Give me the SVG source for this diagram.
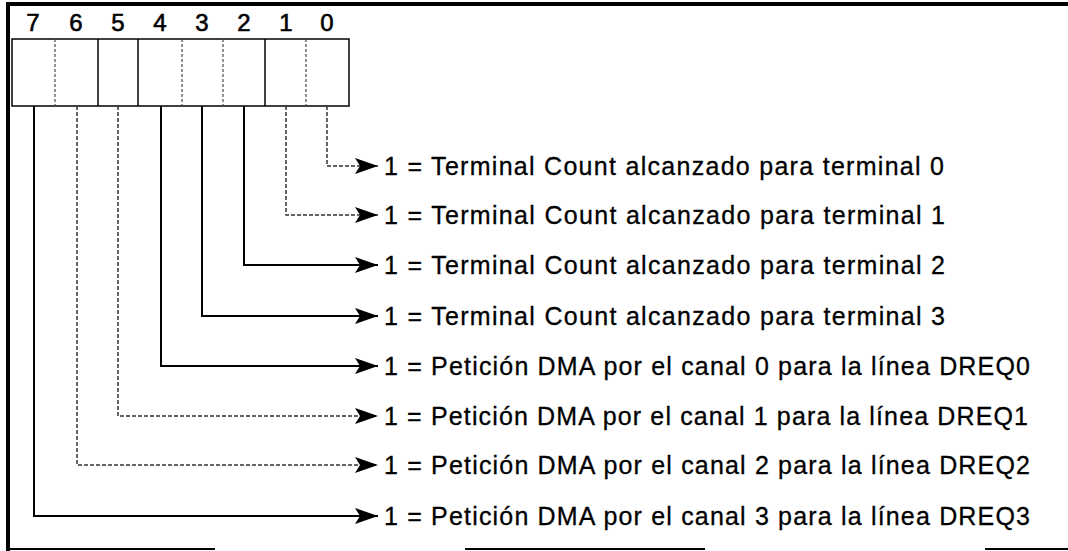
<svg xmlns="http://www.w3.org/2000/svg" width="1068" height="551" viewBox="0 0 1068 551">
<style>
.bg{fill:#fff}
.frame{stroke:#000;fill:none;stroke-width:4}
.frameb{stroke:#000;fill:none;stroke-width:2}
.cell{fill:#fff;stroke:#000;stroke-width:1.5}
.div{stroke:#000;stroke-width:1.5}
.dot{stroke:#555;stroke-width:1.3;stroke-dasharray:3 2}
.digit{font-family:"Liberation Sans",Arial,sans-serif;font-size:24px;fill:#000;text-anchor:middle;stroke:#000;stroke-width:0.6}
.lbl{font-family:"Liberation Sans",Arial,sans-serif;font-size:25px;fill:#000;stroke:#000;stroke-width:0.3}
.wire{fill:none;stroke:#000;stroke-width:2}
.wired{fill:none;stroke:#333;stroke-width:1.5;stroke-dasharray:4 2}
</style>
<defs>
<marker id="ah" markerUnits="userSpaceOnUse" markerWidth="26" markerHeight="18" refX="23" refY="9" orient="auto" viewBox="0 0 26 18">
<path d="M0,1 L23,9 L0,17 L5,9 Z" fill="#000"/>
</marker>
</defs>
<rect class="bg" x="0" y="0" width="1068" height="551"/>
<g id="frame">
<line class="frame" x1="6" y1="4" x2="1068" y2="4"/>
<line class="frame" x1="8" y1="2" x2="8" y2="551"/>
<line class="frameb" x1="8" y1="549" x2="215" y2="549"/>
<line class="frameb" x1="465" y1="549" x2="705" y2="549"/>
<line class="frameb" x1="985" y1="549" x2="1068" y2="549"/>
</g>
<g id="register">
<rect class="cell" x="12" y="39" width="337" height="67"/>
<line class="dot" x1="55" y1="39" x2="55" y2="106"/>
<line class="div" x1="98" y1="39" x2="98" y2="106"/>
<line class="div" x1="138" y1="39" x2="138" y2="106"/>
<line class="dot" x1="182" y1="39" x2="182" y2="106"/>
<line class="dot" x1="223" y1="39" x2="223" y2="106"/>
<line class="div" x1="265" y1="39" x2="265" y2="106"/>
<line class="dot" x1="306" y1="39" x2="306" y2="106"/>
<text class="digit" x="33" y="31">7</text>
<text class="digit" x="76" y="31">6</text>
<text class="digit" x="118" y="31">5</text>
<text class="digit" x="160" y="31">4</text>
<text class="digit" x="202" y="31">3</text>
<text class="digit" x="244" y="31">2</text>
<text class="digit" x="286" y="31">1</text>
<text class="digit" x="327" y="31">0</text>
</g>
<g id="connectors">
<path class="wired" d="M327,106 V166 H378" marker-end="url(#ah)"/>
<path class="wired" d="M286,106 V215 H378" marker-end="url(#ah)"/>
<path class="wire" d="M244,106 V265 H378" marker-end="url(#ah)"/>
<path class="wire" d="M202,106 V316 H378" marker-end="url(#ah)"/>
<path class="wire" d="M161,106 V366 H378" marker-end="url(#ah)"/>
<path class="wired" d="M118,106 V416 H378" marker-end="url(#ah)"/>
<path class="wired" d="M77,106 V465 H378" marker-end="url(#ah)"/>
<path class="wire" d="M34,106 V516 H378" marker-end="url(#ah)"/>
</g>
<g id="bit0"><text class="lbl" x="384" y="175" textLength="560">1 = Terminal Count alcanzado para terminal 0</text></g>
<g id="bit1"><text class="lbl" x="384" y="224" textLength="561">1 = Terminal Count alcanzado para terminal 1</text></g>
<g id="bit2"><text class="lbl" x="384" y="274" textLength="561">1 = Terminal Count alcanzado para terminal 2</text></g>
<g id="bit3"><text class="lbl" x="384" y="325" textLength="561">1 = Terminal Count alcanzado para terminal 3</text></g>
<g id="bit4"><text class="lbl" x="384" y="375" textLength="646">1 = Petición DMA por el canal 0 para la línea DREQ0</text></g>
<g id="bit5"><text class="lbl" x="384" y="425" textLength="644">1 = Petición DMA por el canal 1 para la línea DREQ1</text></g>
<g id="bit6"><text class="lbl" x="384" y="474" textLength="646">1 = Petición DMA por el canal 2 para la línea DREQ2</text></g>
<g id="bit7"><text class="lbl" x="384" y="525" textLength="646">1 = Petición DMA por el canal 3 para la línea DREQ3</text></g>
</svg>
